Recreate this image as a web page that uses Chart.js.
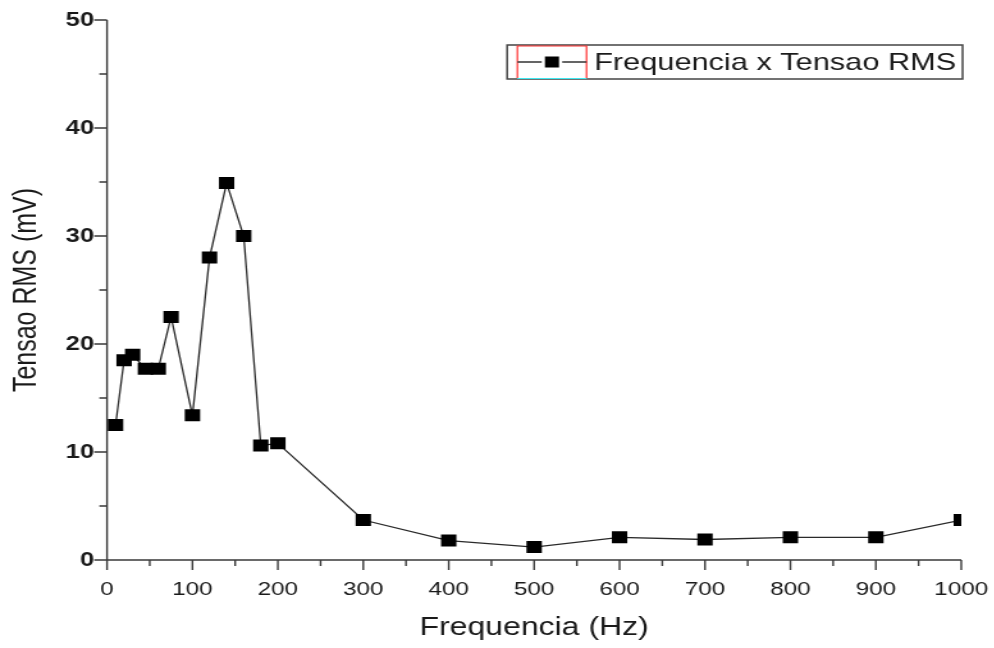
<!DOCTYPE html>
<html>
<head>
<meta charset="utf-8">
<title>Frequencia x Tensao RMS</title>
<script src="https://cdn.jsdelivr.net/npm/chart.js@4.4.1/dist/chart.umd.min.js"></script>
<style>
  html, body { margin: 0; padding: 0; background: #fff; overflow: hidden; }
  /* the original picture is stretched sideways, so the canvas is too */
  #wrap { width: 777px; height: 648px; transform: scaleX(1.28); transform-origin: 0 0; }
</style>
</head>
<body>
<div id="wrap"><canvas id="grafico" width="777" height="648"></canvas></div>
<script>
// dados
var frequencias = [10, 20, 30, 45, 60, 75, 100, 120, 140, 160, 180, 200, 300, 400, 500, 600, 700, 800, 900, 1000];
var tensoes = [12.5, 18.5, 19.0, 17.7, 17.7, 22.5, 13.4, 28.0, 34.9, 30.0, 10.6, 10.8, 3.7, 1.8, 1.2, 2.1, 1.9, 2.1, 2.1, 3.7];
var serieNome = 'Frequencia x Tensao RMS';
var xTicks = [0, 100, 200, 300, 400, 500, 600, 700, 800, 900, 1000];
var yTicks = [0, 10, 20, 30, 40, 50];
var xTitulo = 'Frequencia (Hz)';
var yTitulo = 'Tensao RMS (mV)';

var fonte = "'Liberation Sans', Arial, sans-serif";

// eixos com ticks maiores e menores (estilo Origin)
var eixos = {
    id: 'eixos',
    beforeDatasetsDraw: function(chart) {
        var ctx = chart.ctx;
        var area = chart.chartArea;
        var sx = chart.scales.x, sy = chart.scales.y;
        ctx.save();
        ctx.strokeStyle = '#3a3a3a';
        ctx.lineWidth = 1.4;
        ctx.beginPath();
        ctx.moveTo(area.left, area.top);
        ctx.lineTo(area.left, area.bottom);
        ctx.lineTo(area.right, area.bottom);
        for (var i = 0; i < xTicks.length; i++) {
            var px = sx.getPixelForValue(xTicks[i]);
            ctx.moveTo(px, area.bottom);
            ctx.lineTo(px, area.bottom + 10);
            if (i < xTicks.length - 1) {
                var pm = sx.getPixelForValue((xTicks[i] + xTicks[i + 1]) / 2);
                ctx.moveTo(pm, area.bottom);
                ctx.lineTo(pm, area.bottom + 6);
            }
        }
        for (var j = 0; j < yTicks.length; j++) {
            var py = sy.getPixelForValue(yTicks[j]);
            ctx.moveTo(area.left, py);
            ctx.lineTo(area.left - 10, py);
            if (j < yTicks.length - 1) {
                var qm = sy.getPixelForValue((yTicks[j] + yTicks[j + 1]) / 2);
                ctx.moveTo(area.left, qm);
                ctx.lineTo(area.left - 6, qm);
            }
        }
        ctx.stroke();
        ctx.restore();
    }
};

// legenda com moldura, no canto superior direito
var legenda = {
    id: 'legenda',
    afterDraw: function(chart) {
        var ctx = chart.ctx;
        var area = chart.chartArea;
        var ds = chart.data.datasets[0];
        ctx.save();
        ctx.font = '24px ' + fonte;
        var tw = ctx.measureText(ds.label).width;
        var h = 34, amostra = 54;
        var right = area.right + 1;
        var left = right - (8 + amostra + 6 + tw + 5);
        var top = area.top + 25;
        var cy = top + h / 2;

        ctx.strokeStyle = '#444';
        ctx.lineWidth = 1.5;
        ctx.strokeRect(left, top, right - left, h);

        // borda vermelha/ciano em volta da amostra
        var sl = left + 8, sr = sl + amostra;
        ctx.lineWidth = 1.2;
        ctx.strokeStyle = '#ff3030';
        ctx.beginPath();
        ctx.moveTo(sl, top + h - 1);
        ctx.lineTo(sl, top + 1);
        ctx.lineTo(sr, top + 1);
        ctx.lineTo(sr, top + h - 1);
        ctx.stroke();
        ctx.strokeStyle = '#40e8f0';
        ctx.beginPath();
        ctx.moveTo(sl, top + h - 0.5);
        ctx.lineTo(sr, top + h - 0.5);
        ctx.stroke();

        // linha e marcador
        var mx = (sl + sr) / 2;
        ctx.strokeStyle = '#333';
        ctx.lineWidth = 1.3;
        ctx.beginPath();
        ctx.moveTo(sl, cy);
        ctx.lineTo(mx - 8, cy);
        ctx.moveTo(mx + 8, cy);
        ctx.lineTo(sr, cy);
        ctx.stroke();
        ctx.fillStyle = '#000';
        ctx.fillRect(mx - 5.5, cy - 5.5, 11, 11);

        ctx.fillStyle = '#1a1a1a';
        ctx.textBaseline = 'middle';
        ctx.textAlign = 'left';
        ctx.fillText(ds.label, sr + 6, cy + 1);
        ctx.restore();
    }
};

var ctx = document.getElementById('grafico').getContext('2d');
var grafico = new Chart(ctx, {
    type: 'line',
    data: {
        datasets: [{
            label: serieNome,
            data: frequencias.map(function(f, i) { return { x: f, y: tensoes[i] }; }),
            borderColor: '#2a2a2a',
            borderWidth: 1.3,
            backgroundColor: '#000',
            pointStyle: 'rect',
            pointRadius: 8.5,
            pointBorderWidth: 0,
            pointBackgroundColor: '#000',
            tension: 0
        }]
    },
    options: {
        responsive: false,
        animation: false,
        layout: { padding: { top: 20, right: 26, left: 0, bottom: 0 } },
        plugins: {
            legend: { display: false },
            tooltip: { enabled: false }
        },
        scales: {
            x: {
                type: 'linear',
                min: xTicks[0],
                max: xTicks[xTicks.length - 1],
                grid: { display: false, drawTicks: false },
                border: { display: false },
                ticks: {
                    stepSize: xTicks[1] - xTicks[0],
                    autoSkip: false,
                    maxRotation: 0,
                    padding: 18,
                    color: '#1a1a1a',
                    font: { family: fonte, size: 19 },
                    callback: function(v) { return String(v); }
                },
                title: {
                    display: true,
                    text: xTitulo,
                    color: '#1a1a1a',
                    font: { family: fonte, size: 25 },
                    padding: { top: 0, bottom: 5 }
                },
                afterFit: function(s) {
                    s.height = 88;
                    s.paddingLeft = 0;
                    s.paddingRight = 0;
                }
            },
            y: {
                min: yTicks[0],
                max: yTicks[yTicks.length - 1],
                grid: { display: false, drawTicks: false },
                border: { display: false },
                ticks: {
                    stepSize: yTicks[1] - yTicks[0],
                    padding: 10,
                    color: '#1a1a1a',
                    font: { family: fonte, size: 20, weight: 'bold' },
                    callback: function(v) { return String(v); }
                },
                title: {
                    display: true,
                    text: yTitulo,
                    color: '#1a1a1a',
                    font: { family: fonte, size: 25 },
                    padding: { top: 6, bottom: 0 }
                },
                afterFit: function(s) {
                    s.width = 83.6;
                    s.paddingTop = 0;
                    s.paddingBottom = 0;
                }
            }
        }
    },
    plugins: [eixos, legenda]
});
</script>
</body>
</html>
